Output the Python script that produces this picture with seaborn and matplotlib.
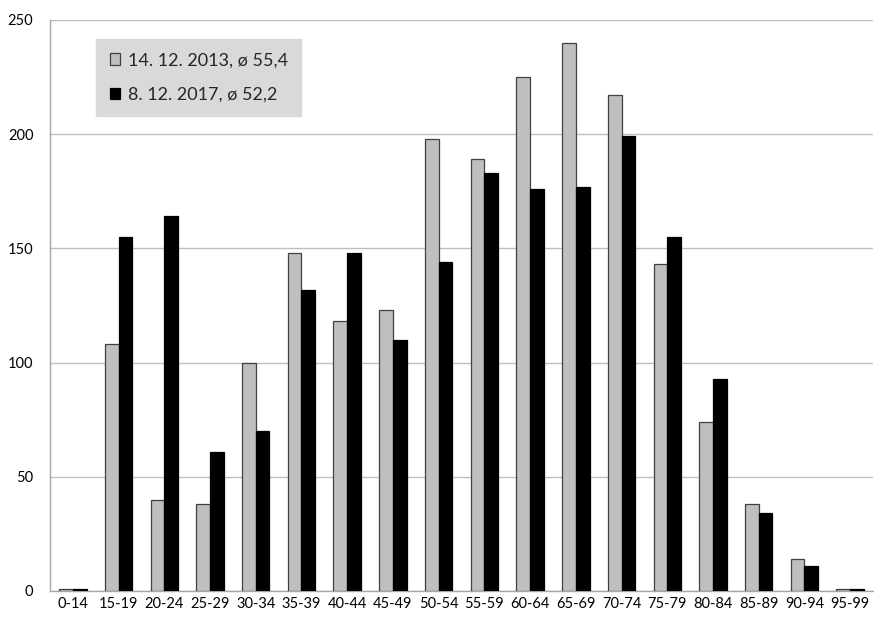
import matplotlib
matplotlib.use("Agg")
import matplotlib.pyplot as plt
import seaborn as sns
import pandas as pd
from matplotlib.patches import Patch

age_groups = ["0-14", "15-19", "20-24", "25-29", "30-34", "35-39", "40-44", "45-49",
              "50-54", "55-59", "60-64", "65-69", "70-74", "75-79", "80-84", "85-89",
              "90-94", "95-99"]
counts_2013 = [1, 108, 40, 38, 100, 148, 118, 123, 198, 189, 225, 240, 217, 143, 74, 38, 14, 1]
counts_2017 = [1, 155, 164, 61, 70, 132, 148, 110, 144, 183, 176, 177, 199, 155, 93, 34, 11, 1]
series_labels = ["14. 12. 2013, ø 55,4", "8. 12. 2017, ø 52,2"]
y_ticks = [0, 50, 100, 150, 200, 250]

sns.set_theme(style="white")
plt.rcParams["font.family"] = ["Lato", "DejaVu Sans"]

df = pd.DataFrame({
    "Věk": age_groups * 2,
    "Počet": counts_2013 + counts_2017,
    "Datum": [series_labels[0]] * len(age_groups) + [series_labels[1]] * len(age_groups),
})

fill_colors = ["#BFBFBF", "#000000"]
edge_colors = ["#404040", "#000000"]

fig = plt.figure(figsize=(8.74, 6.2), dpi=100)
ax = fig.add_axes([50 / 874, 29 / 620, 823 / 874, 571 / 620])

sns.barplot(data=df, x="Věk", y="Počet", hue="Datum", hue_order=series_labels,
            palette=fill_colors, width=0.6, gap=0, ax=ax, legend=False,
            err_kws={"linewidth": 0})

for cont, ec in zip(ax.containers, edge_colors):
    for bar in cont:
        bar.set_edgecolor(ec)
        bar.set_linewidth(0.9)
        bar.set_zorder(3)

ax.set_ylim(0, 250)
ax.set_xlim(-0.5, len(age_groups) - 0.5)
ax.set_yticks(y_ticks)
ax.yaxis.grid(True, color="#BFBFBF", linewidth=1.0, zorder=0)
ax.set_axisbelow(True)
ax.set_xlabel("")
ax.set_ylabel("")

for side in ["top", "right"]:
    ax.spines[side].set_visible(False)
for side in ["left", "bottom"]:
    ax.spines[side].set_color("#A6A6A6")
    ax.spines[side].set_linewidth(1.0)

ax.tick_params(axis="y", length=0, pad=12, labelsize=10.5, labelcolor="#000000")
ax.tick_params(axis="x", length=0, pad=4.5, labelsize=10.5, labelcolor="#000000")

handles = [Patch(facecolor=fill_colors[0], edgecolor=edge_colors[0], linewidth=0.9),
           Patch(facecolor=fill_colors[1], edgecolor=edge_colors[1], linewidth=0.9)]
leg = ax.legend(handles, series_labels, loc="upper left",
                bbox_to_anchor=(46 / 823, 1 - 19 / 571), fontsize=13,
                frameon=True, fancybox=False, facecolor="#D9D9D9", edgecolor="#D9D9D9",
                framealpha=1.0, handlelength=0.6, handleheight=0.6, handletextpad=0.4,
                labelspacing=1.0, borderpad=0.75, borderaxespad=0)
leg.set_zorder(5)

fig.savefig("out.png", dpi=100)
